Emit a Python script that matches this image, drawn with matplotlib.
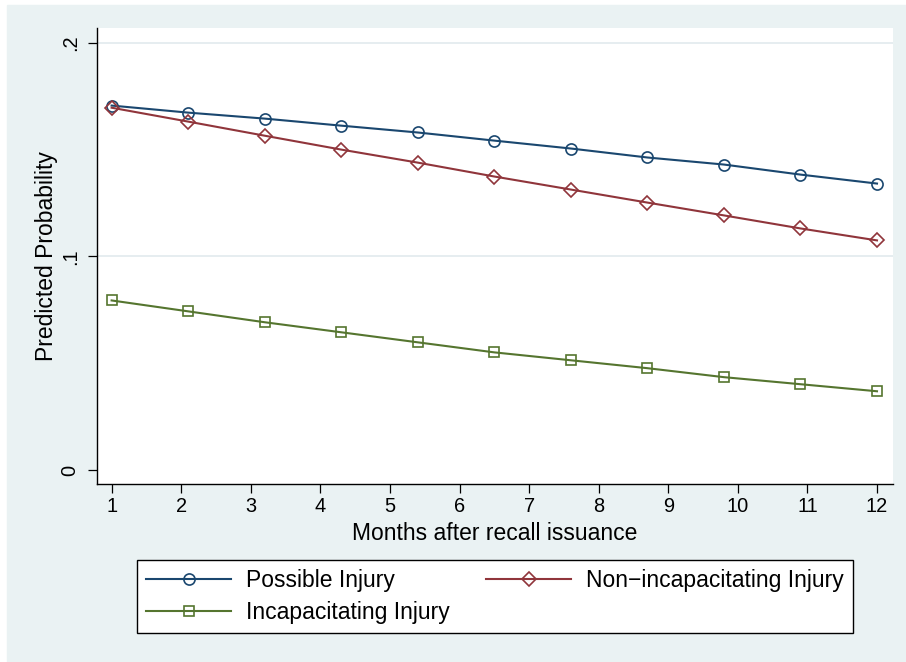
import matplotlib.pyplot as plt
from matplotlib.patches import Rectangle

# --- Data ---
months = [1, 2.1, 3.2, 4.3, 5.4, 6.5, 7.6, 8.7, 9.8, 10.9, 12]
possible = [0.1706, 0.1673, 0.1645, 0.1612, 0.1580, 0.1542, 0.1505, 0.1463, 0.1430, 0.1383, 0.1341]
non_incap = [0.1696, 0.1631, 0.1565, 0.1500, 0.1439, 0.1374, 0.1313, 0.1252, 0.1192, 0.1131, 0.1075]
incap = [0.0794, 0.0743, 0.0692, 0.0645, 0.0598, 0.0551, 0.0514, 0.0477, 0.0435, 0.0402, 0.0369]

x_ticks = list(range(1, 13))
y_ticks = [0, 0.1, 0.2]
y_ticklabels = ["0", ".1", ".2"]

# --- Styling (Stata s2color look) ---
plt.rcParams["font.family"] = ["Liberation Sans", "DejaVu Sans"]
BG = "#eaf2f3"
GRID = "#e1eaed"
COLORS = {"possible": "#1a476f", "non_incap": "#90353b", "incap": "#55752f"}

fig = plt.figure(figsize=(9.06, 6.62), dpi=100, facecolor="white")
fig.patches.append(Rectangle((7 / 906, 0), 1 - 7 / 906, 1 - 5 / 662,
                             transform=fig.transFigure, color=BG, zorder=-10))

ax = fig.add_axes([97 / 906, 1 - 484 / 662, (893 - 97) / 906, (484 - 28) / 662])
ax.set_facecolor("white")

mk = dict(markerfacecolor="none", markeredgewidth=1.2, lw=1.5)
l1, = ax.plot(months, possible, color=COLORS["possible"], marker="o", markersize=8,
              markeredgecolor=COLORS["possible"], label="Possible Injury", **mk)
l2, = ax.plot(months, non_incap, color=COLORS["non_incap"], marker="D", markersize=7.4,
              markeredgecolor=COLORS["non_incap"], label="Non\u2212incapacitating Injury", **mk)
l3, = ax.plot(months, incap, color=COLORS["incap"], marker="s", markersize=7.6,
              markeredgecolor=COLORS["incap"], label="Incapacitating Injury", **mk)

ax.set_xlim(0.79, 12.23)
ax.set_ylim(-0.0065, 0.2069)
ax.set_xticks(x_ticks)
ax.set_yticks(y_ticks)
ax.set_yticklabels(y_ticklabels, rotation=90, va="center")
for y in y_ticks[1:]:
    ax.axhline(y, color=GRID, lw=1.2, zorder=0)

for s in ("top", "right"):
    ax.spines[s].set_visible(False)
for s in ("left", "bottom"):
    ax.spines[s].set_linewidth(1.0)
ax.tick_params(axis="both", length=6.5, width=0.9, labelsize=14.4)
ax.tick_params(axis="x", pad=3)
ax.tick_params(axis="y", pad=6)

ax.set_xlabel("Months after recall issuance", fontsize=16.5, labelpad=4)
ax.set_ylabel("Predicted Probability", fontsize=16.5, labelpad=2)

# --- Legend (row-major order: Possible, Non-incap / Incap) ---
leg = fig.legend([l1, l3, l2], [l1.get_label(), l3.get_label(), l2.get_label()],
                 ncol=2, loc="center", bbox_to_anchor=(495 / 906, 1 - 596.5 / 662),
                 fontsize=16.5, frameon=True, fancybox=False, edgecolor="black",
                 framealpha=1, handlelength=3.7, handletextpad=0.65,
                 columnspacing=1.6, labelspacing=0.4, borderpad=0.4, borderaxespad=0)
leg.get_frame().set_linewidth(1.0)

fig.savefig("out.png", dpi=100, facecolor=fig.get_facecolor())
